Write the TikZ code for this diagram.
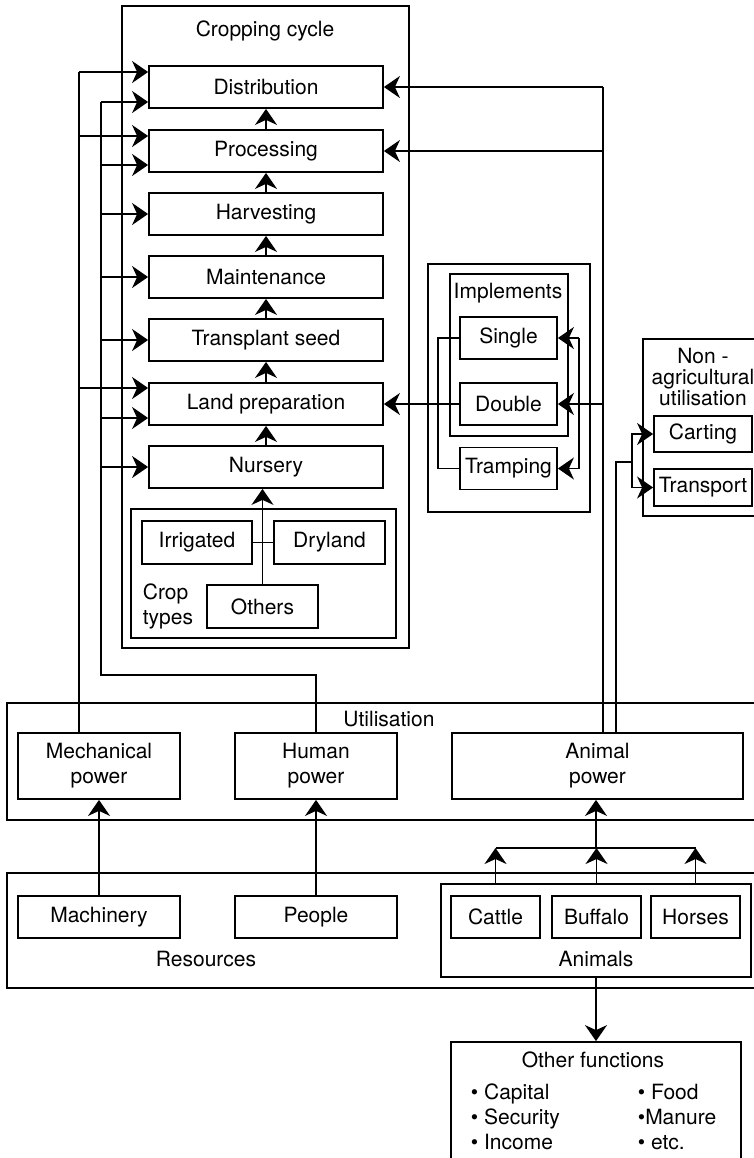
\documentclass[tikz,border=0pt]{standalone}
\usepackage{fontspec}
\setmainfont{TeX Gyre Heros}
\usetikzlibrary{arrows.meta}

\tikzset{
  box/.style={draw, line width=0.9pt, inner sep=1pt, align=center},
  stage/.style={box, minimum width=117pt, minimum height=21pt},
  smallbox/.style={box, minimum width=48.5pt, minimum height=21pt},
  powerbox/.style={box, minimum width=81pt, minimum height=33pt},
  frame/.style={draw, line width=0.9pt, inner sep=0pt},
  arr/.style={-{Stealth[length=8pt,width=11pt,inset=2.5pt]}},
}

\begin{document}
\begin{tikzpicture}[x=0.5pt, y=-0.5pt, line width=0.9pt, font=\fontsize{10.5}{12.5}\selectfont]
    \useasboundingbox (0,0) rectangle (754,1158);

    % Cropping cycle
    \draw (122,6) rectangle (409,648);
    \node (cyclelbl) at (265,31) {Cropping cycle};
    \node[stage] (dist) at (266,87) {Distribution};
    \node[stage] (proc) at (266,151) {Processing};
    \node[stage] (harv) at (266,214) {Harvesting};
    \node[stage] (maint) at (266,277) {Maintenance};
    \node[stage] (trans) at (266,340) {Transplant seed};
    \node[stage] (land) at (266,404) {Land preparation};
    \node[stage] (nurs) at (266,467) {Nursery};
    \foreach \a/\b in {nurs/land,land/trans,trans/maint,maint/harv,harv/proc,proc/dist}
        \draw[arr] (\a.north) -- (\b.south);

    % Crop types
    \draw (131,509) rectangle (396,638);
    \node[box, minimum width=55pt, minimum height=21.5pt] (irr) at (197,542.5) {Irrigated};
    \node[box, minimum width=55.5pt, minimum height=21.5pt] (dry) at (329.5,542.5) {Dryland};
    \node[box, minimum width=55.5pt, minimum height=21.5pt] (others) at (262.5,606.5) {Others};
    \node[anchor=west, align=left, inner sep=0pt] (croplbl) at (142,606) {Crop\\types};
    \draw (irr.east) -- (dry.west);
    \draw[arr] (others.north) -- (others.north |- nurs.south);

    % Implements
    \draw (428,264) rectangle (590,512);
    \draw (450,274) rectangle (568,436);
    \node (implbl) at (508,293) {Implements};
    \node[smallbox] (sgl) at (508.5,338) {Single};
    \node[smallbox] (dbl) at (508.5,404) {Double};
    \node[smallbox] (tramp) at (508.5,468.5) {Tramping};
    \coordinate (ilbus) at (438,338);
    \draw (sgl.west) -- (ilbus) |- (tramp.west);
    \coordinate (irbus) at (579,338);
    \draw[arr] (irbus) -- (sgl.east);
    \draw[arr] (irbus) |- (tramp.east);
    \draw[arr] (dbl.west) -- (land.east);

    % Non-agricultural utilisation
    \draw (643,339) rectangle (765,516);
    \node[align=center, font=\fontsize{10.5}{10.5}\selectfont] (nonlbl) at (703,377) {Non -\\agricultural\\utilisation};
    \node[box, minimum width=49pt, minimum height=18pt] (cart) at (703,434) {Carting};
    \node[box, minimum width=49pt, minimum height=18.5pt] (transp) at (703,487.5) {Transport};

    % Utilisation
    \draw (7,703) rectangle (770,820);
    \node (utillbl) at (389,719) {Utilisation};
    \node[powerbox] (mech) at (99,766) {Mechanical\\power};
    \node[powerbox] (human) at (316,766) {Human\\power};
    \node[powerbox, minimum width=145.5pt] (anim) at (597.5,766) {Animal\\power};

    % Mechanical power feeds
    \coordinate (mbus) at (79,72);
    \draw (mbus) -- (mbus |- mech.north);
    \foreach \n/\s in {dist/7.5pt,proc/7.5pt,land/8pt}
        \draw[arr] ([yshift=\s]\n.west -| mbus) -- ([yshift=\s]\n.west);

    % Human power feeds
    \coordinate (hbus) at (101,102);
    \coordinate (hknee) at (101,675);
    \draw (hbus) -- (hknee) -| (human.north);
    \foreach \n/\s in {dist/-7.5pt,proc/-7pt,harv/0pt,maint/0pt,trans/0pt,land/-7pt,nurs/0pt}
        \draw[arr] ([yshift=\s]\n.west -| hbus) -- ([yshift=\s]\n.west);

    % Animal power feeds
    \coordinate (abus) at (603,87);
    \draw (abus) -- (abus |- anim.north);
    \draw[arr] (abus) -- (dist.east);
    \draw[arr] (abus |- proc.east) -- (proc.east);
    \draw[arr] (abus |- dbl.east) -- (dbl.east);
    \coordinate (nbus) at (616,462);
    \coordinate (nknee) at (632,462);
    \draw (anim.north -| nbus) -- (nbus) -- (nknee);
    \draw[arr] (nknee) |- (cart.west);
    \draw[arr] (nknee) |- (transp.west);

    % Resources
    \draw (7,873) rectangle (770,988);
    \node (reslbl) at (206,959) {Resources};
    \node[powerbox, minimum height=21pt] (mach) at (99,917) {Machinery};
    \node[powerbox, minimum height=21pt] (people) at (316,917) {People};
    \draw[arr] (mach) -- (mech);
    \draw[arr] (people) -- (human);

    % Animals
    \node[frame, minimum width=155pt, minimum height=46.5pt] (animals) at (596,930.5) {};
    \node (animlbl) at (596,959) {Animals};
    \node[box, minimum width=44.5pt, minimum height=21pt] (cattle) at (495.5,917) {Cattle};
    \node[box, minimum width=44.5pt, minimum height=21pt] (buffalo) at (596.5,917) {Buffalo};
    \node[box, minimum width=44.5pt, minimum height=21pt] (horses) at (695.5,917) {Horses};
    \coordinate (bar) at (596,848);
    \draw (cattle |- bar) -- (horses |- bar);
    \foreach \a in {cattle,buffalo,horses}
        \draw[arr] (\a |- animals.north) -- (\a |- bar);
    \draw[arr] (bar) -- (bar |- anim.south);

    % Other functions
    \node[frame, minimum width=145pt, minimum height=64pt] (other) at (596,1106) {};
    \node (otherlbl) at (593,1060) {Other functions};
    \node[anchor=west, align=left, inner sep=0pt] (lcol) at (470,1117) {• Capital\\• Security\\• Income};
    \node[anchor=west, align=left, inner sep=0pt] (rcol) at (637,1117) {• Food\\•Manure\\• etc.};
    \draw[arr] (animals.south) -- (other.north);
\end{tikzpicture}
\end{document}
